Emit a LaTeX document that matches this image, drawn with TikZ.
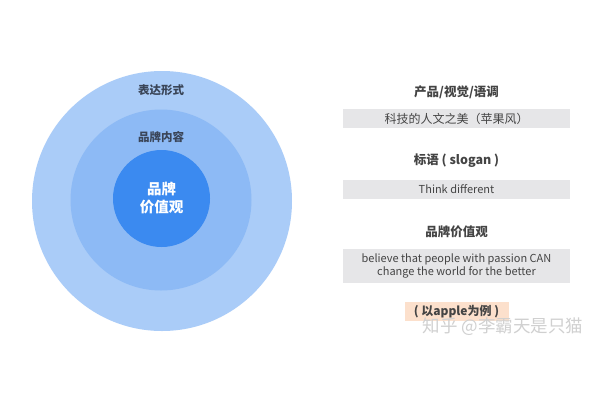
\documentclass[tikz,border=0pt]{standalone}
\usepackage{fontspec}
\setmainfont{Noto Sans CJK SC}
\usepackage{tikz}
\usetikzlibrary{positioning}
\definecolor{outerblue}{HTML}{AACCF8}
\definecolor{middleblue}{HTML}{8DBAF5}
\definecolor{coreblue}{HTML}{3B8AF0}
\definecolor{ringtext}{HTML}{3A4558}
\definecolor{headgrey}{HTML}{444444}
\definecolor{boxgrey}{HTML}{E6E6E8}
\definecolor{applepeach}{HTML}{FCE0CC}
\definecolor{markgrey}{HTML}{D0D0D0}
\tikzset{ring/.style={circle,draw=none,inner sep=0pt}}
\tikzset{ringlabel/.style={font=\fontsize{11.5}{13}\selectfont\bfseries,text=ringtext}}
\tikzset{heading/.style={font=\fontsize{12.5}{14}\selectfont\bfseries,text=headgrey,
inner sep=1.5pt}}
\tikzset{greybox/.style={rectangle,draw=none,fill=boxgrey,text=headgrey,
inner sep=2pt,minimum height=19pt,minimum width=227pt,align=center}}

\begin{document}
\begin{tikzpicture}[x=1pt,y=-1pt]
        \fill[white] (0,0) rectangle (600,400);
        \useasboundingbox (0,0) rectangle (600,400);

        \node[ring,fill=outerblue,minimum size=260pt] (outer) at (162,201) {};
        \node[ring,fill=middleblue,minimum size=181pt] (middle) at (161,200) {};
        \node[ring,fill=coreblue,minimum size=97pt] (core) at (161.5,198.5) {};

        \node[ringlabel] (outerlabel) at (161,90) {表达形式};
        \node[ringlabel] (middlelabel) at (161,137) {品牌内容};
        \node[align=center,text=white,font=\fontsize{14.5}{18}\selectfont\bfseries] (corelabel) at (core) {品牌\\价值观};

        \node[heading] (visual) at (456.5,92) {产品/视觉/语调};
        \node[greybox,font=\fontsize{12}{13}\selectfont] (visualbox) [below=9pt of visual] {科技的人文之美（苹果风）};

        \node[heading] (slogan) [below=23pt of visualbox] {标语 ( slogan )};
        \node[greybox,font=\fontsize{11}{12}\selectfont] (sloganbox) [below=11pt of slogan] {Think different};

        \node[heading] (value) [below=25pt of sloganbox] {品牌价值观};
        \node[greybox,minimum height=34pt,font=\fontsize{11}{13}\selectfont] (valuebox) [below=9pt of value] {believe that people with passion CAN\\change the world for the better};

        \node[rectangle,fill=applepeach,text=headgrey,minimum width=104pt,minimum height=19pt,
        inner sep=2pt,font=\fontsize{12}{13}\selectfont\bfseries] (apple) [below=19pt of valuebox] {( 以apple为例 )};

        \node[text=markgrey,font=\fontsize{17.5}{19}\selectfont,anchor=west] (mark) at (419,327) {知乎 @李霸天是只猫};
    \end{tikzpicture}
\end{document}
